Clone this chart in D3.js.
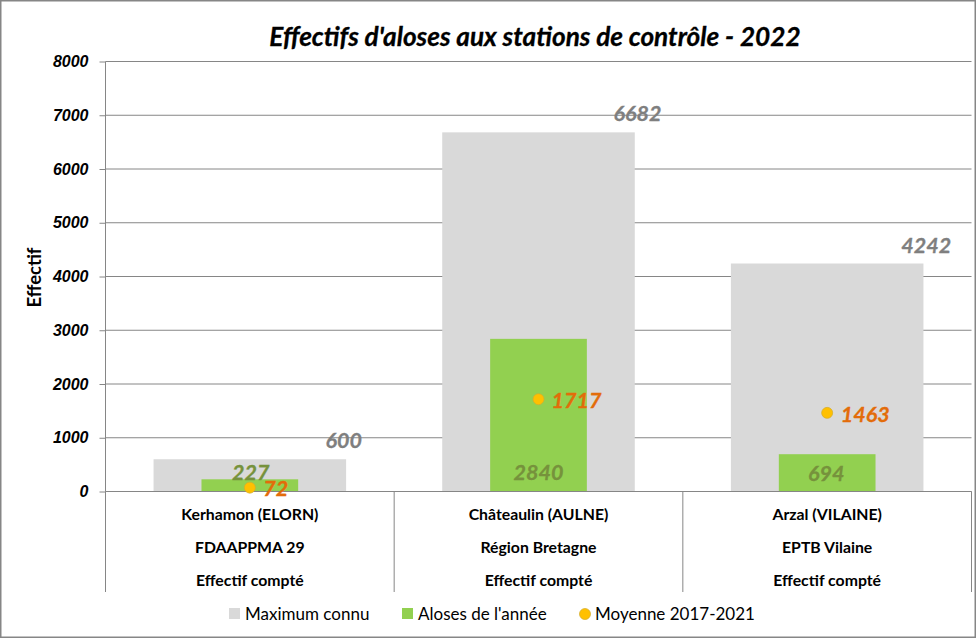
<!DOCTYPE html>
<html>
<head>
<meta charset="utf-8">
<script src="https://cdn.jsdelivr.net/npm/d3@7"></script>
<style>
	html, body { margin: 0; padding: 0; background: #fff; }
	svg { display: block; font-family: Lato, "Open Sans", sans-serif; }
</style>
</head>
<body>
<div id="graph"></div>
<script>
	// chart values
	var stations = ["Kerhamon (ELORN)", "Châteaulin (AULNE)", "Arzal (VILAINE)"];
	var operators = ["FDAAPPMA 29", "Région Bretagne", "EPTB Vilaine"];
	var methods = ["Effectif compté", "Effectif compté", "Effectif compté"];
	var maxKnown = [600, 6682, 4242];
	var yearCount = [227, 2840, 694];
	var average = [72, 1717, 1463];
	var yTicks = [0, 1000, 2000, 3000, 4000, 5000, 6000, 7000, 8000];
	var legendLabels = ["Maximum connu", "Aloses de l'année", "Moyenne 2017-2021"];

	var width = 976, height = 638;
	var margin = {left: 105.5, right: 4.5, top: 61.5, bottom: 146.5};
	var grey = "#d9d9d9", green = "#92d050", yellow = "#ffc000", line = "#868686";

	var svg = d3.select("#graph").append("svg")
		.attr("width", width)
		.attr("height", height);

	svg.append("rect")
		.attr("x", 0.75).attr("y", 0.75)
		.attr("width", width - 1.5).attr("height", height - 1.5)
		.attr("fill", "#fff")
		.attr("stroke", line)
		.attr("stroke-width", 1.5);

	var xScale = d3.scaleBand()
		.domain(stations)
		.range([margin.left, width - margin.right]);
	var yScale = d3.scaleLinear()
		.domain([0, 8000])
		.range([height - margin.bottom, margin.top]);

	var band = xScale.bandwidth();
	var center = d => xScale(d) + band / 2;
	var y0 = yScale(0);

	// title
	svg.append("text")
		.attr("x", 535).attr("y", 46)
		.attr("text-anchor", "middle")
		.attr("stroke", "#000")
		.attr("stroke-width", 0.3)
		.style("font-size", "26.2px")
		.style("font-weight", "bold")
		.style("font-style", "italic")
		.text("Effectifs d'aloses aux stations de contrôle - 2022");

	// y axis with gridlines
	var yAxis = svg.append("g")
		.attr("transform", `translate(${margin.left},0)`)
		.call(d3.axisLeft(yScale)
			.tickValues(yTicks)
			.tickSize(6)
			.tickPadding(11)
			.tickFormat(d3.format("d")));
	yAxis.select(".domain").attr("stroke", line).attr("d", `M0,${margin.top}V${y0}`);
	yAxis.selectAll(".tick line").attr("stroke", line);
	yAxis.selectAll(".tick text")
		.attr("fill", "#000")
		.style("font-size", "16px")
		.style("font-weight", "bold")
		.style("font-style", "italic");

	svg.append("g").selectAll("line")
		.data(yTicks)
		.join("line")
		.attr("x1", margin.left)
		.attr("x2", width - margin.right)
		.attr("y1", d => yScale(d))
		.attr("y2", d => yScale(d))
		.attr("stroke", line);

	svg.append("text")
		.attr("transform", `translate(41,${(margin.top + y0) / 2 + 1}) rotate(-90)`)
		.attr("text-anchor", "middle")
		.style("font-size", "18.5px")
		.style("font-weight", "bold")
		.text("Effectif");

	// bars
	var greyWidth = band * 0.667, greenWidth = band * 0.335;
	svg.append("g").selectAll("rect")
		.data(maxKnown)
		.join("rect")
		.attr("x", (d, i) => center(stations[i]) - greyWidth / 2)
		.attr("width", greyWidth)
		.attr("y", d => yScale(d))
		.attr("height", d => y0 - yScale(d))
		.attr("fill", grey);

	svg.append("g").selectAll("rect")
		.data(yearCount)
		.join("rect")
		.attr("x", (d, i) => center(stations[i]) - greenWidth / 2)
		.attr("width", greenWidth)
		.attr("y", d => yScale(d))
		.attr("height", d => y0 - yScale(d))
		.attr("fill", green);

	// category separators and labels
	var baseline = svg.append("g");
	baseline.append("line")
		.attr("x1", margin.left).attr("x2", width - margin.right)
		.attr("y1", y0).attr("y2", y0)
		.attr("stroke", line);
	baseline.selectAll("line.sep")
		.data(d3.range(stations.length + 1))
		.join("line")
		.attr("class", "sep")
		.attr("x1", i => margin.left + i * band)
		.attr("x2", i => margin.left + i * band)
		.attr("y1", y0)
		.attr("y2", 592)
		.attr("stroke", line);

	[[stations, 514], [operators, 547], [methods, 580]].forEach(function(row){
		svg.append("g").selectAll("text")
			.data(row[0])
			.join("text")
			.attr("x", (d, i) => center(stations[i]))
			.attr("y", row[1])
			.attr("dy", "0.35em")
			.attr("text-anchor", "middle")
			.style("font-size", "15.8px")
			.style("font-weight", "bold")
			.text(d => d);
	});

	// average dots
	svg.append("g").selectAll("circle")
		.data(average)
		.join("circle")
		.attr("cx", (d, i) => center(stations[i]))
		.attr("cy", d => yScale(d))
		.attr("r", 5.5)
		.attr("fill", yellow)
		.attr("stroke", "#d6ae2b")
		.attr("stroke-width", 0.75);

	// data labels, moved by hand in the original
	function valuelabels(values, color, xoff, yoff){
		svg.append("g").selectAll("text")
			.data(values)
			.join("text")
			.attr("x", (d, i) => center(stations[i]) + xoff[i])
			.attr("y", (d, i) => yScale(d) + yoff[i])
			.attr("dy", "0.35em")
			.attr("text-anchor", "middle")
			.attr("fill", color)
			.attr("stroke", color)
			.attr("stroke-width", 0.3)
			.style("font-size", "21.5px")
			.style("font-weight", "bold")
			.style("font-style", "italic")
			.text(d => d);
	}
	valuelabels(maxKnown, "#7f7f7f", [94, 99, 99], [-19, -19, -18]);
	valuelabels(yearCount, "#76923c", [1, 0, -1], [-7, 134, 19]);
	valuelabels(average, "#e36c0a", [26, 38, 38], [1, 1, 2]);

	// legend
	var legend = svg.append("g");
	var legendX = [229, 402, 579];
	legendLabels.forEach(function(label, i){
		if(i < 2){
			legend.append("rect")
				.attr("x", legendX[i]).attr("y", 608)
				.attr("width", 11).attr("height", 11)
				.attr("fill", i === 0 ? grey : green);
		} else {
			legend.append("circle")
				.attr("cx", legendX[i] + 6).attr("cy", 614)
				.attr("r", 5.5)
				.attr("fill", yellow)
				.attr("stroke", "#d6ae2b")
				.attr("stroke-width", 0.75);
		}
		legend.append("text")
			.attr("x", legendX[i] + 16)
			.attr("y", 614)
			.attr("dy", "0.35em")
			.style("font-size", "17px")
			.text(label);
	});
</script>
</body>
</html>
